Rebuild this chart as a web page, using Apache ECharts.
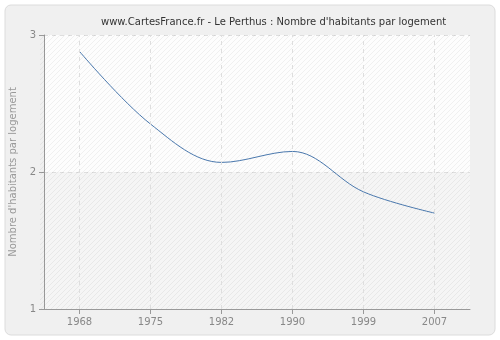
<!DOCTYPE html>
<html>
<head>
<meta charset="utf-8">
<script src="https://cdn.jsdelivr.net/npm/echarts@6/dist/echarts.min.js"></script>
<style>
  html, body { margin: 0; padding: 0; background: #ffffff; }
  #chart { width: 500px; height: 340px; }
</style>
</head>
<body>
<div id="chart"></div>
<script>
// Census years and average household size in Le Perthus
const years = ['1968', '1975', '1982', '1990', '1999', '2007'];
const personsPerHome = [2.88, 2.35, 2.07, 2.15, 1.855, 1.70];
const yTicks = [1, 2, 3];

// Diagonal hatch tile for the plot background
function hatchTile(color, step) {
  const c = document.createElement('canvas');
  c.width = step; c.height = step;
  const g = c.getContext('2d');
  g.strokeStyle = color;
  g.lineWidth = 1;
  g.beginPath();
  g.moveTo(0, step); g.lineTo(step, 0);
  g.moveTo(-step / 2, step / 2); g.lineTo(step / 2, -step / 2);
  g.moveTo(step / 2, step * 1.5); g.lineTo(step * 1.5, step / 2);
  g.stroke();
  return c;
}

const chart = echarts.init(document.getElementById('chart'), null, { renderer: 'canvas' });

const gridL = 40, gridR = 30, gridT = 35, gridB = 31;
const plotW = 500 - gridL - gridR, plotH = 340 - gridT - gridB;
const gridLine = { color: '#dedede', type: [4, 4], width: 1 };

chart.setOption({
  animation: false,
  backgroundColor: '#ffffff',
  title: {
    text: "www.CartesFrance.fr - Le Perthus : Nombre d'habitants par logement",
    left: 96,
    top: 12,
    textStyle: { fontFamily: 'DejaVu Sans', fontSize: 10, fontWeight: 'normal', color: '#333333' }
  },
  graphic: [
    {
      type: 'rect', z: -10, silent: true,
      shape: { x: 5, y: 5, width: 490, height: 330, r: 6 },
      style: { fill: '#f0f0f0', stroke: '#dcdcdc', lineWidth: 1 }
    },
    {
      type: 'rect', z: 1, silent: true,
      shape: { x: gridL, y: gridT, width: plotW, height: plotH },
      style: { fill: { image: hatchTile('rgba(0,0,0,0.05)', 5), repeat: 'repeat' } }
    }
  ],
  grid: { left: gridL, right: gridR, top: gridT, bottom: gridB, containLabel: false },
  xAxis: {
    type: 'category',
    data: years,
    boundaryGap: true,
    axisLine: { show: true, lineStyle: { color: '#999999', width: 1 } },
    axisTick: { show: true, alignWithLabel: true, length: 5, lineStyle: { color: '#999999' } },
    axisLabel: { color: '#888888', fontFamily: 'DejaVu Sans', fontSize: 10, margin: 8 },
    splitLine: { show: false }
  },
  yAxis: {
    type: 'value',
    min: yTicks[0],
    max: yTicks[yTicks.length - 1],
    interval: 1,
    name: "Nombre d'habitants par logement",
    nameLocation: 'middle',
    nameGap: 26,
    nameTextStyle: { color: '#999999', fontFamily: 'DejaVu Sans', fontSize: 10 },
    axisLine: { show: true, lineStyle: { color: '#999999', width: 1 } },
    axisTick: { show: true, length: 5, lineStyle: { color: '#999999' } },
    axisLabel: { color: '#888888', fontFamily: 'DejaVu Sans', fontSize: 10, margin: 8 },
    splitLine: { show: true, lineStyle: gridLine },
    splitArea: { show: true, areaStyle: { color: ['#f5f5f5', '#fdfdfd'] } }
  },
  series: [{
    type: 'line',
    z: 3,
    data: personsPerHome,
    smooth: 0.35,
    symbol: 'none',
    lineStyle: { color: '#4a78ad', width: 1 },
    // vertical guides at each census year
    markLine: {
      silent: true,
      symbol: 'none',
      label: { show: false },
      lineStyle: gridLine,
      data: years.map(y => ({ xAxis: y }))
    }
  }]
});
</script>
</body>
</html>
